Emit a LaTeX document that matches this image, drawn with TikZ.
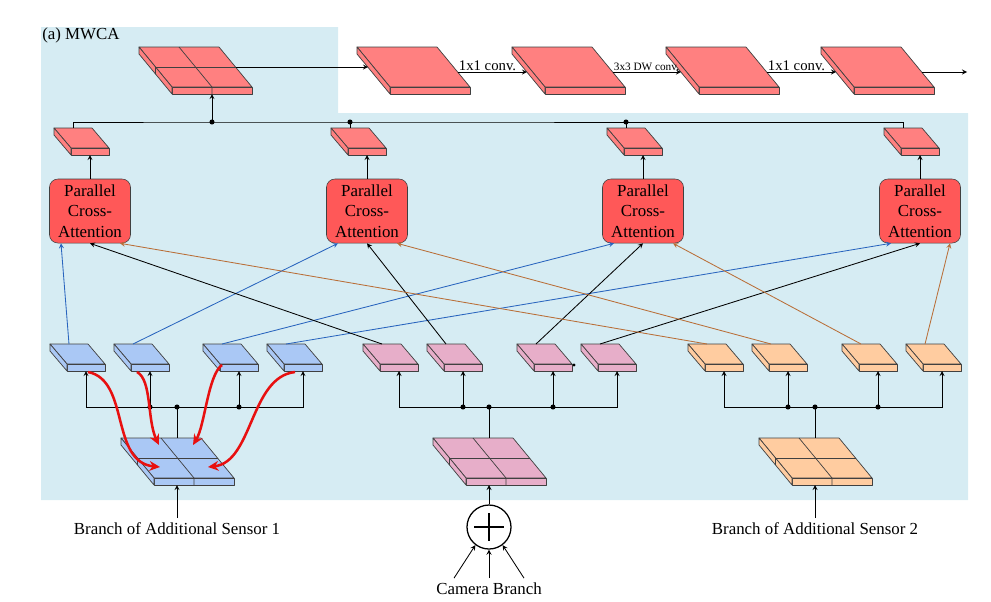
\documentclass[tikz,border=0pt]{standalone}
\usepackage{fontspec}
\setmainfont{Liberation Serif}
\usetikzlibrary{arrows,arrows.meta,calc}
\definecolor{bgblue}{RGB}{214,236,243}
\definecolor{slabred}{RGB}{255,128,128}
\definecolor{pcared}{RGB}{255,88,88}
\definecolor{slabblue}{RGB}{170,200,245}
\definecolor{slabpink}{RGB}{231,174,201}
\definecolor{slaborange}{RGB}{255,204,160}
\definecolor{lineblue}{RGB}{40,100,190}
\definecolor{linebrown}{RGB}{185,110,55}
\definecolor{curvered}{RGB}{232,16,16}
\tikzstyle{pca}=[rectangle,rounded corners=6pt,minimum width=2.025cm,minimum height=1.6cm,inner sep=0pt,align=center,draw=black!75,fill=pcared,font=\fontsize{12}{14.6}\selectfont]
\tikzstyle{arrow}=[->,>=stealth,line width=0.6pt]
\tikzstyle{link}=[line width=0.6pt]
\tikzstyle{blueline}=[->,>=stealth,line width=0.6pt,draw=lineblue]
\tikzstyle{blackline}=[->,>=stealth,line width=0.6pt,draw=black]
\tikzstyle{brownline}=[->,>=stealth,line width=0.6pt,draw=linebrown]
\tikzstyle{redcurve}=[-{Stealth[length=7.5pt,width=7pt]},line width=1.8pt,draw=curvered]
\tikzstyle{conv}=[pos=0,above right,inner sep=0.6pt,font=\fontsize{10.5}{12}\selectfont]
\tikzstyle{slabedge}=[draw=black!75,line width=0.5pt,line join=round]
\tikzset{
  pics/smallslab/.style={code={
    \filldraw[fill=#1,slabedge] (0,0) -- (38,0) -- (55,20) -- (17,20) -- cycle;
    \filldraw[fill=#1,slabedge] (17,20) rectangle (55,27);
    \filldraw[fill=#1,slabedge] (0,0) -- (17,20) -- (17,27) -- (0,7) -- cycle;
    \coordinate (-tl) at (0,0);
    \coordinate (-top) at (19,0);
    \coordinate (-bot) at (36,27);
  }},
  pics/bigslab/.style={code={
    \filldraw[fill=#1,slabedge] (0,0) -- (80,0) -- (113,40) -- (33,40) -- cycle;
    \filldraw[fill=#1,slabedge] (33,40) rectangle (113,47);
    \filldraw[fill=#1,slabedge] (0,0) -- (33,40) -- (33,47) -- (0,7) -- cycle;
    \coordinate (-w1) at (11,20);
    \coordinate (-e1) at (96.5,20);
    \coordinate (-w2) at (15,25);
    \coordinate (-e2) at (100.6,25);
  }},
  pics/gridslab/.style={code={
    \filldraw[fill=#1,slabedge] (0,0) -- (80,0) -- (113,40) -- (33,40) -- cycle;
    \filldraw[fill=#1,slabedge] (33,40) rectangle (113,47);
    \filldraw[fill=#1,slabedge] (0,0) -- (33,40) -- (33,47) -- (0,7) -- cycle;
    \draw[slabedge] (40,0) -- (73,40) -- (73,47);
    \draw[slabedge] (16.5,20) -- (96.5,20);
    \draw[slabedge] (16.5,20) -- (16.5,27);
    \coordinate (-n) at (56,0);
    \coordinate (-s) at (56,47);
    \coordinate (-m) at (73,47);
    \coordinate (-e1) at (96.5,20);
    \coordinate (-ul) at (38,7);
    \coordinate (-ur) at (72,7);
    \coordinate (-ll) at (39,29);
    \coordinate (-lr) at (87,29);
  }}
}

\begin{document}
\begin{tikzpicture}[x=0.025cm,y=-0.025cm,node distance=1.4cm,font=\fontsize{12}{14.5}\selectfont]
            \useasboundingbox (0,0) rectangle (991,601);
            % background
            \fill[bgblue] (41,27) -- (338,27) -- (338,113) -- (968,113) -- (968,500) -- (41,500) -- cycle;
            \node (title)[anchor=west,inner sep=0pt] at (42,35) {(a) MWCA};
            % top row
            \pic (mwca) at (139,47) {gridslab=slabred};
            \pic (feat1) at (357,47) {bigslab=slabred};
            \pic (feat2) at (512,47) {bigslab=slabred};
            \pic (feat3) at (666,47) {bigslab=slabred};
            \pic (feat4) at (821,47) {bigslab=slabred};
            \coordinate (out) at (967,72);
            \draw [arrow] (mwca-e1) -- (feat1-w1);
            \draw [arrow] (feat1-e2) -- node[conv]{1x1 conv.} (feat2-w2);
            \draw [arrow] (feat2-e2) -- node[conv,font=\fontsize{8}{9}\selectfont]{3x3 DW conv.} (feat3-w2);
            \draw [arrow] (feat3-e2) -- node[conv]{1x1 conv.} (feat4-w2);
            \draw [arrow] (feat4-e2) -- (out);
            % attention outputs
            \pic (red1) at (54,128) {smallslab=slabred};
            \pic (red2) at (331,128) {smallslab=slabred};
            \pic (red3) at (607,128) {smallslab=slabred};
            \pic (red4) at (884,128) {smallslab=slabred};
            \node (pca1)[pca,below of=red1-bot]{Parallel\\Cross-\\Attention};
            \node (pca2)[pca,below of=red2-bot]{Parallel\\Cross-\\Attention};
            \node (pca3)[pca,below of=red3-bot]{Parallel\\Cross-\\Attention};
            \node (pca4)[pca,below of=red4-bot]{Parallel\\Cross-\\Attention};
            \draw [arrow] (pca1) -- (red1-bot);
            \draw [arrow] (pca2) -- (red2-bot);
            \draw [arrow] (pca3) -- (red3-bot);
            \draw [arrow] (pca4) -- (red4-bot);
            \coordinate (busj) at ($(mwca-m)+(0,28)$);
            \draw [link] (red1-top) |- (busj) -| (red4-top);
            \draw [link] (red2-top) -- (red2-top |- busj);
            \draw [link] (red3-top) -- (red3-top |- busj);
            \draw [arrow] (busj) -- (mwca-m);
            \fill (busj) circle (1.8pt);
            \fill (red2-top |- busj) circle (1.8pt);
            \fill (red3-top |- busj) circle (1.8pt);
            % sensor branches
            \pic (blue1) at (50,344) {smallslab=slabblue};
            \pic (blue2) at (114,344) {smallslab=slabblue};
            \pic (blue3) at (203,344) {smallslab=slabblue};
            \pic (blue4) at (267,344) {smallslab=slabblue};
            \pic (pink1) at (363,344) {smallslab=slabpink};
            \pic (pink2) at (427,344) {smallslab=slabpink};
            \pic (pink3) at (517,344) {smallslab=slabpink};
            \pic (pink4) at (581,344) {smallslab=slabpink};
            \pic (orange1) at (688,344) {smallslab=slaborange};
            \pic (orange2) at (752,344) {smallslab=slaborange};
            \pic (orange3) at (842,344) {smallslab=slaborange};
            \pic (orange4) at (906,344) {smallslab=slaborange};
            \fill ($(pink3-tl)+(57,21)$) circle (1.2pt);
            \pic (bluegrid) at (121,438) {gridslab=slabblue};
            \pic (pinkgrid) at (433,438) {gridslab=slabpink};
            \pic (orangegrid) at (759,438) {gridslab=slaborange};
            % cross connections
            \draw [blueline] (blue1-top) -- ($(pca1.south)+(-29,0)$);
            \draw [blueline] (blue2-top) -- ($(pca2.south)+(-29,0)$);
            \draw [blueline] (blue3-top) -- ($(pca3.south)+(-29,0)$);
            \draw [blueline] (blue4-top) -- ($(pca4.south)+(-29,0)$);
            \draw [blackline] (pink1-top) -- (pca1.south);
            \draw [blackline] (pink2-top) -- (pca2.south);
            \draw [blackline] (pink3-top) -- (pca3.south);
            \draw [blackline] (pink4-top) -- (pca4.south);
            \draw [brownline] (orange1-top) -- ($(pca1.south)+(30,0)$);
            \draw [brownline] (orange2-top) -- ($(pca2.south)+(30,0)$);
            \draw [brownline] (orange3-top) -- ($(pca3.south)+(30,0)$);
            \draw [brownline] (orange4-top) -- ($(pca4.south)+(30,0)$);
            % splits
            \coordinate (bluej) at ($(bluegrid-n)+(0,-31)$);
            \draw [link] (bluegrid-n) -- (bluej);
            \draw [arrow] (bluej) -| (blue1-bot);
            \draw [arrow] (bluej) -| (blue4-bot);
            \draw [arrow] (blue2-bot |- bluej) -- (blue2-bot);
            \draw [arrow] (blue3-bot |- bluej) -- (blue3-bot);
            \fill (bluej) circle (1.8pt);
            \fill (blue2-bot |- bluej) circle (1.8pt);
            \fill (blue3-bot |- bluej) circle (1.8pt);
            \coordinate (pinkj) at ($(pinkgrid-n)+(0,-31)$);
            \draw [link] (pinkgrid-n) -- (pinkj);
            \draw [arrow] (pinkj) -| (pink1-bot);
            \draw [arrow] (pinkj) -| (pink4-bot);
            \draw [arrow] (pink2-bot |- pinkj) -- (pink2-bot);
            \draw [arrow] (pink3-bot |- pinkj) -- (pink3-bot);
            \fill (pinkj) circle (1.8pt);
            \fill (pink2-bot |- pinkj) circle (1.8pt);
            \fill (pink3-bot |- pinkj) circle (1.8pt);
            \coordinate (orangej) at ($(orangegrid-n)+(0,-31)$);
            \draw [link] (orangegrid-n) -- (orangej);
            \draw [arrow] (orangej) -| (orange1-bot);
            \draw [arrow] (orangej) -| (orange4-bot);
            \draw [arrow] (orange2-bot |- orangej) -- (orange2-bot);
            \draw [arrow] (orange3-bot |- orangej) -- (orange3-bot);
            \fill (orangej) circle (1.8pt);
            \fill (orange2-bot |- orangej) circle (1.8pt);
            \fill (orange3-bot |- orangej) circle (1.8pt);
            % inputs
            \node (sensor1)[below of=bluegrid-s,yshift=0.3cm]{Branch of Additional Sensor 1};
            \node (sensor2)[below of=orangegrid-s,yshift=0.3cm]{Branch of Additional Sensor 2};
            \node (plus)[circle,draw,fill=white,line width=0.9pt,minimum size=1.1cm,inner sep=0pt,below of=pinkgrid-s,yshift=0.35cm]{};
            \node (camera)[below of=plus,yshift=-0.15cm]{Camera Branch};
            \draw [line width=1pt] ($(plus)+(-15,0)$) -- ($(plus)+(15,0)$);
            \draw [line width=1pt] ($(plus)+(0,-14)$) -- ($(plus)+(0,14)$);
            \draw [arrow] (sensor1) -- (bluegrid-s);
            \draw [arrow] (sensor2) -- (orangegrid-s);
            \draw [arrow] (plus) -- (pinkgrid-s);
            \draw [arrow] ($(camera.north)+(-35,0)$) -- (plus.233);
            \draw [arrow] (camera) -- (plus);
            \draw [arrow] ($(camera.north)+(35,0)$) -- (plus.307);
            % token shuffling
            \draw [redcurve] ($(blue1-bot)+(2,1)$) .. controls +(42,8) and +(-50,-5) .. (bluegrid-ll);
            \draw [redcurve] ($(blue2-bot)+(-13,1)$) .. controls +(15,8) and +(-12,-25) .. (bluegrid-ul);
            \draw [redcurve] ($(blue3-bot)+(-17,-6)$) .. controls +(-14,10) and +(12,-20) .. (bluegrid-ur);
            \draw [redcurve] ($(blue4-bot)+(-8,1)$) .. controls +(-45,5) and +(45,-5) .. (bluegrid-lr);
        \end{tikzpicture}
\end{document}
